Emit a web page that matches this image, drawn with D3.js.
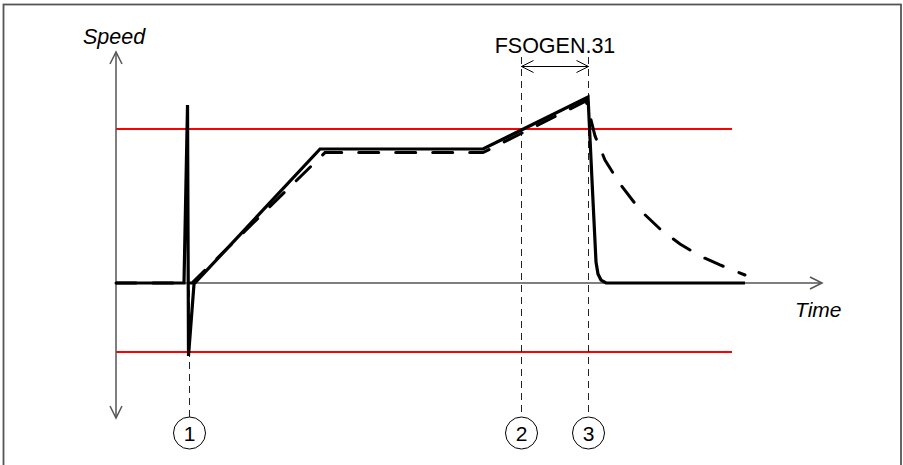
<!DOCTYPE html>
<html>
<head>
<meta charset="utf-8">
<script src="https://cdn.jsdelivr.net/npm/d3@7"></script>
<style>
  body { margin: 0; background: #fff; }
  text { font-family: "Liberation Sans", Arial, sans-serif; }
</style>
</head>
<body>
<script>
'use strict';

// solid trace (actual speed): time / speed (1 = overspeed limit)
const solidT = [0, 9.63, 10.13, 10.27, 11.05, 28.9, 51.98, 66.86, 67.42, 67.99, 68.27, 68.70, 69.41, 89.09];
const solidV = [0, 0, 1.156, -0.474, -0.006, 0.870, 0.870, 1.208, 0.669, 0.136, 0.058, 0.019, 0, 0];

// dashed trace (reference speed)
const dashT = [0, 10.76, 29.6, 51.98, 66.57, 67.0, 67.85, 69.26, 71.39, 74.22, 77.05, 79.89, 82.72, 85.55, 89.09];
const dashV = [0, 0, 0.847, 0.847, 1.182, 1.110, 0.955, 0.799, 0.643, 0.474, 0.351, 0.253, 0.175, 0.117, 0.052];

// overspeed limits
const limits = [1, -0.448];
const limitEnd = 87.25;

// event markers
const markerT = [10.27, 57.37, 66.86];
const markerLabels = ["1", "2", "3"];
const spanLabel = "FSOGEN.31";

const svg = d3.select('body').append('svg')
  .attr('width', 903)
  .attr('height', 465);

const x = d3.scaleLinear().domain([0, 100]).range([116, 822]);
const y = d3.scaleLinear().domain([0, 1]).range([283, 129]);

// frame
svg.append('rect')
  .attr('x', 3.5).attr('y', 4.5)
  .attr('width', 897.5).attr('height', 475)
  .attr('fill', 'none')
  .attr('stroke', '#555')
  .attr('stroke-width', 1.8);

// limit lines
svg.selectAll('.limit')
  .data(limits)
  .enter()
  .append('line')
  .attr('x1', x(0)).attr('x2', x(limitEnd))
  .attr('y1', d => y(d)).attr('y2', d => y(d))
  .attr('stroke', '#ff0000')
  .attr('stroke-width', 2);

// axes with open arrow heads
const axisColor = '#555';
function chevron(px, py, dir) {
  const l = 12, w = 6;
  let p;
  if (dir === 'up') p = [[px - w, py + l], [px, py], [px + w, py + l]];
  if (dir === 'down') p = [[px - w, py - l], [px, py], [px + w, py - l]];
  if (dir === 'right') p = [[px - l, py - w], [px, py], [px - l, py + w]];
  if (dir === 'left') p = [[px + l, py - w], [px, py], [px + l, py + w]];
  return d3.line()(p);
}

svg.append('line')
  .attr('x1', x(0)).attr('x2', x(0))
  .attr('y1', 52).attr('y2', 418)
  .attr('stroke', axisColor).attr('stroke-width', 1.5);
svg.append('path').attr('d', chevron(x(0), 52, 'up'))
  .attr('fill', 'none').attr('stroke', axisColor).attr('stroke-width', 1.5);
svg.append('path').attr('d', chevron(x(0), 418, 'down'))
  .attr('fill', 'none').attr('stroke', axisColor).attr('stroke-width', 1.5);

svg.append('line')
  .attr('x1', x(0)).attr('x2', x(100))
  .attr('y1', y(0)).attr('y2', y(0))
  .attr('stroke', axisColor).attr('stroke-width', 1.5);
svg.append('path').attr('d', chevron(x(100), y(0), 'right'))
  .attr('fill', 'none').attr('stroke', axisColor).attr('stroke-width', 1.5);

svg.append('text')
  .attr('x', 83).attr('y', 44)
  .style('font-size', '21.5px')
  .style('font-style', 'italic')
  .text('Speed');

svg.append('text')
  .attr('x', 795).attr('y', 317)
  .style('font-size', '21px')
  .style('font-style', 'italic')
  .text('Time');

// marker guide lines
const guideTop = [290, 57, 57];
svg.selectAll('.guide')
  .data(markerT)
  .enter()
  .append('line')
  .attr('x1', d => Math.round(x(d)) + 0.5).attr('x2', d => Math.round(x(d)) + 0.5)
  .attr('y1', (d, i) => guideTop[i]).attr('y2', 417)
  .attr('stroke', '#222')
  .attr('stroke-width', 1)
  .attr('stroke-dasharray', '7,5');

svg.selectAll('.marker')
  .data(markerT)
  .enter()
  .append('circle')
  .attr('cx', d => Math.round(x(d)) + 0.5).attr('cy', 433)
  .attr('r', 16)
  .attr('fill', '#fff')
  .attr('stroke', '#000')
  .attr('stroke-width', 1);

svg.selectAll('.markerLabel')
  .data(markerT)
  .enter()
  .append('text')
  .attr('x', d => Math.round(x(d)) + 0.5).attr('y', 441)
  .attr('text-anchor', 'middle')
  .style('font-size', '21px')
  .text((d, i) => markerLabels[i]);

// FSOGEN.31 span arrow
const ax1 = Math.round(x(markerT[1])) + 0.5, ax2 = Math.round(x(markerT[2])) + 0.5, ay = 66.5;
svg.append('line')
  .attr('x1', ax1).attr('x2', ax2)
  .attr('y1', ay).attr('y2', ay)
  .attr('stroke', '#000').attr('stroke-width', 1);
svg.append('path').attr('d', chevron(ax1, ay, 'left'))
  .attr('fill', 'none').attr('stroke', '#000').attr('stroke-width', 1);
svg.append('path').attr('d', chevron(ax2, ay, 'right'))
  .attr('fill', 'none').attr('stroke', '#000').attr('stroke-width', 1);
svg.append('text')
  .attr('x', (ax1 + ax2) / 2).attr('y', 53)
  .attr('text-anchor', 'middle')
  .style('font-size', '21.5px')
  .text(spanLabel);

// traces
const line = d3.line()
  .x(d => x(d[0]))
  .y(d => y(d[1]));

svg.append('path')
  .attr('d', line(dashT.map((t, i) => [t, dashV[i]])))
  .attr('fill', 'none')
  .attr('stroke', '#000')
  .attr('stroke-width', 3)
  .attr('stroke-linecap', 'round')
  .attr('stroke-dasharray', '20,17');

svg.append('path')
  .attr('d', line(solidT.map((t, i) => [t, solidV[i]])))
  .attr('fill', 'none')
  .attr('stroke', '#000')
  .attr('stroke-width', 3.2)
  .attr('stroke-linejoin', 'miter');
</script>
</body>
</html>
